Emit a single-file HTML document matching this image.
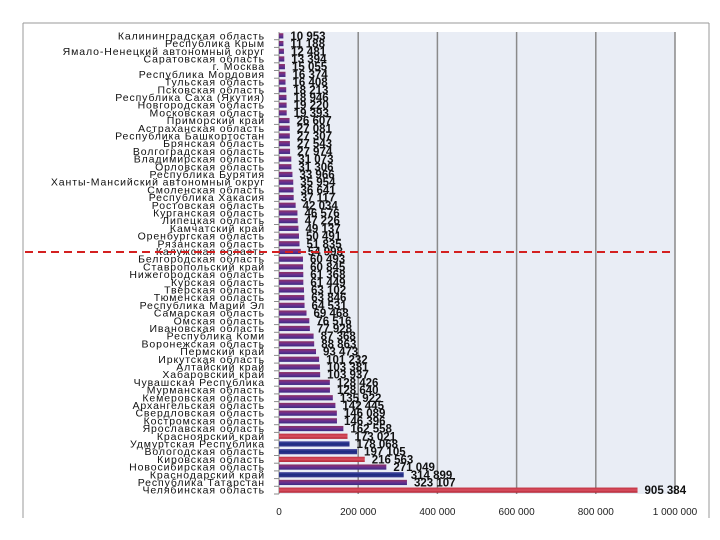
<!DOCTYPE html>
<html><head><meta charset="utf-8"><style>
html,body{margin:0;padding:0;background:#fff;}
svg{display:block;}
text{font-family:"Liberation Sans","DejaVu Sans",sans-serif;}
</style></head><body>
<svg id="chart" width="720" height="540" viewBox="0 0 720 540" xmlns="http://www.w3.org/2000/svg">
<defs>
<linearGradient id="gP" x1="0" y1="0" x2="0" y2="1"><stop offset="0" stop-color="#903060"/><stop offset="0.5" stop-color="#6a3090"/><stop offset="1" stop-color="#3a2a80"/></linearGradient>
<linearGradient id="gR" x1="0" y1="0" x2="0" y2="1"><stop offset="0" stop-color="#c03040"/><stop offset="0.5" stop-color="#d85060"/><stop offset="1" stop-color="#b02030"/></linearGradient>
<linearGradient id="gB" x1="0" y1="0" x2="0" y2="1"><stop offset="0" stop-color="#4a4aa0"/><stop offset="0.5" stop-color="#1a2a80"/><stop offset="1" stop-color="#3a3a90"/></linearGradient>
</defs>
<g id="frame">
<line x1="23" y1="23" x2="709" y2="23" stroke="#999" stroke-width="1"/>
<line x1="23" y1="23" x2="23" y2="518" stroke="#999" stroke-width="1"/>
<line x1="709" y1="23" x2="709" y2="518" stroke="#999" stroke-width="1"/>
</g>
<rect x="279" y="32" width="396" height="462" fill="#e9edf5"/>
<g id="grid"></g>
<g id="bars"></g>
<g id="labels"></g>
<g id="values"></g>
<g id="xticks"></g>
<line x1="25" y1="252" x2="672" y2="252" stroke="#d42020" stroke-width="2" stroke-dasharray="8,5"/>
</svg>
<script>
const categories = ["Калининградская область","Республика Крым","Ямало-Ненецкий автономный округ","Саратовская область","г. Москва","Республика Мордовия","Тульская область","Псковская область","Республика Саха (Якутия)","Новгородская область","Московская область","Приморский край","Астраханская область","Республика Башкортостан","Брянская область","Волгоградская область","Владимирская область","Орловская область","Республика Бурятия","Ханты-Мансийский автономный округ","Смоленская область","Республика Хакасия","Ростовская область","Курганская область","Липецкая область","Камчатский край","Оренбургская область","Рязанская область","Калужская область","Белгородская область","Ставропольский край","Нижегородская область","Курская область","Тверская область","Тюменская область","Республика Марий Эл","Самарская область","Омская область","Ивановская область","Республика Коми","Воронежская область","Пермский край","Иркутская область","Алтайский край","Хабаровский край","Чувашская Республика","Мурманская область","Кемеровская область","Архангельская область","Свердловская область","Костромская область","Ярославская область","Красноярский край","Удмуртская Республика","Вологодская область","Кировская область","Новосибирская область","Краснодарский край","Республика Татарстан","Челябинская область"];
const values = [10953,11188,12481,13394,15055,16374,16408,18213,18946,19220,19393,26607,27081,27307,27543,27974,31073,31306,33966,35954,36641,37117,42034,46576,47226,49137,50491,51835,54998,60493,60845,61368,61449,63102,63846,64531,69468,76516,77928,87368,88863,93473,101232,103381,103937,128426,128640,135922,142445,146089,146396,162558,173021,178068,197105,216563,271049,314899,323107,905384];
const barColors = ["P","P","P","P","P","P","P","P","P","P","P","P","P","P","P","P","P","P","P","P","P","P","P","P","P","P","P","P","P","P","P","P","P","P","P","P","P","P","P","P","P","P","P","P","P","P","P","P","P","P","P","P","R","B","B","R","P","B","P","R"];
const xTicks = [0,200000,400000,600000,800000,1000000];
const xTickLabels = ["0","200 000","400 000","600 000","800 000","1 000 000"];

const NS="http://www.w3.org/2000/svg";
const X0=279, X1=675, XMAX=1000000, Y0=32, Y1=494;
const step=(Y1-Y0)/categories.length;
function xScale(v){return X0+(X1-X0)*v/XMAX;}
function yScale(i){return Y0+step*(i+0.5);}
function fmt(v){return String(v).replace(/\B(?=(\d{3})+(?!\d))/g," ");}
function mk(tag,attrs,parent){const e=document.createElementNS(NS,tag);for(const k in attrs)e.setAttribute(k,attrs[k]);parent.appendChild(e);return e;}
const grid=document.getElementById('grid'),bars=document.getElementById('bars'),labels=document.getElementById('labels'),vals=document.getElementById('values'),xt=document.getElementById('xticks');
xTicks.forEach((t,i)=>{
  const x=xScale(t);
  if(t>0){const l=mk('line',{x1:x,y1:Y0,x2:x,y2:Y1,stroke:'#8a8a8a','stroke-width':1.5},grid);
  
  }
  const tx=mk('text',{x:x,y:515,'font-size':10,'text-anchor':'middle',fill:'#222'},xt);
  tx.textContent=xTickLabels[i];
  
  
});
const ax=mk('line',{x1:X0,y1:Y0,x2:X0,y2:Y1,stroke:'#8a8a8a','stroke-width':1},grid);


categories.forEach((c,i)=>{
  const y=yScale(i);
  const tk=mk('line',{x1:X0-5,y1:Y0+step*(i+1),x2:X0,y2:Y0+step*(i+1),stroke:'#8a8a8a','stroke-width':1},grid);
  
  
  const w=xScale(values[i])-X0;
  const r=mk('rect',{x:X0,y:y-2.6,width:Math.max(w,1),height:5.2,fill:'url(#g'+barColors[i]+')'},bars);
  
  
  const lt=mk('text',{x:265,y:y+3.5,'font-size':10.5,'text-anchor':'end','letter-spacing':'0.9',fill:'#111'},labels);
  lt.textContent=c;
  
  
  const vt=mk('text',{x:xScale(values[i])+7,y:y+4,'font-size':11.5,'font-weight':'bold',fill:'#111'},vals);
  vt.textContent=fmt(values[i]);
  
  
});
</script>
</body></html>
